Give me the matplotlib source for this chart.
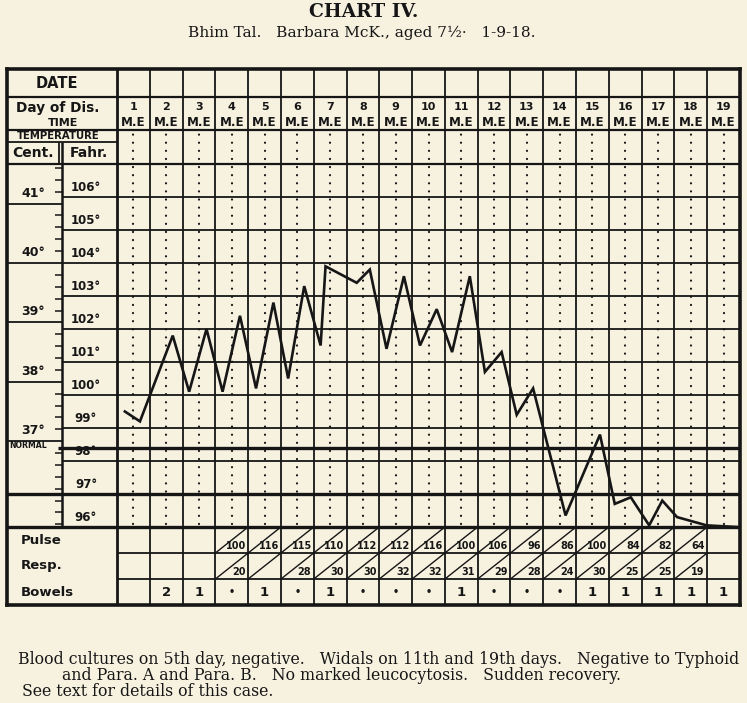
import matplotlib
matplotlib.use("Agg")
import matplotlib.pyplot as plt

# ---------------- data ----------------
days = list(range(1, 20))
time_label = "M.E"
# reading time (in days from start of day 1) and temperature in deg F
temp_time = [0.24, 0.70, 1.70, 2.20, 2.73, 3.22, 3.75, 4.24, 4.77, 5.22,
             5.71, 6.21, 6.36, 7.31, 7.71, 8.22, 8.75, 9.24, 9.75, 10.22,
             10.76, 11.22, 11.73, 12.19, 12.69, 13.68, 14.73, 15.18, 15.67,
             16.23, 16.63, 17.08, 17.98, 18.90]
temp_f = [99.5, 99.2, 101.8, 100.1, 102.0, 100.1, 102.4, 100.2, 102.8, 100.5,
          103.3, 101.5, 103.9, 103.4, 103.8, 101.4, 103.6, 101.5, 102.6, 101.3,
          103.6, 100.7, 101.3, 99.4, 100.2, 96.35, 98.8, 96.7, 96.9,
          96.05, 96.8, 96.3, 96.05, 96.0]
pulse = [None, None, None, 100, 116, 115, 110, 112, 112, 116, 100, 106, 96,
         86, 100, 84, 82, 64, None]
resp = [None, None, None, 20, None, 28, 30, 30, 32, 32, 31, 29, 28, 24, 30,
        25, 25, 19, None]
bowels = ["", "2", "1", "•", "1", "•", "1", "•", "•", "•", "1", "•", "•",
          "•", "1", "1", "1", "1", "1"]
fahr_labels = [96, 97, 98, 99, 100, 101, 102, 103, 104, 105, 106]
cent_labels = [37, 38, 39, 40, 41]
normal_f = 98.4
title = "CHART IV."
subtitle = "Bhim Tal.   Barbara McK., aged 7½·   1-9-18."
notes = ["Blood cultures on 5th day, negative.   Widals on 11th and 19th days.   Negative to Typhoid",
         "and Para. A and Para. B.   No marked leucocytosis.   Sudden recovery.",
         "See text for details of this case."]

# ---------------- layout ----------------
BG = "#f7f2e0"
INK = "#161616"
FW, FH = 747, 703
fig = plt.figure(figsize=(FW / 100, FH / 100), dpi=100, facecolor=BG)

PX_DAY = (740 - 117) / 19.0     # pixels per day column
PX_DEG = 33.0                   # pixels per deg F


def X(px):
    return (px - 117) / PX_DAY


def Y(py):
    return 107 - (py - 164) / PX_DEG


left_px, right_px, top_px, bot_px = 7, 740, 69, 605
ax = fig.add_axes([left_px / FW, 1 - bot_px / FH, (right_px - left_px) / FW,
                   (bot_px - top_px) / FH])
ax.set_xlim(X(left_px), X(right_px))
ax.set_ylim(Y(bot_px), Y(top_px))
ax.set_facecolor(BG)
for s in ax.spines.values():
    s.set_linewidth(2.6)
    s.set_color(INK)
ax.set_xticks([])
ax.set_yticks([])

xL, xR = X(left_px), X(right_px)
x_cf = X(62)
y_top = Y(top_px)
y_date = Y(97)
y_day = Y(130)
y_tmp = Y(142)
y_t_top, y_t_bot = 107, 96
y_pulse = Y(553)
y_resp = Y(579)
y_bot = Y(bot_px)

lw = 1.3
kw = dict(color=INK, capstyle="butt")

# horizontal header lines
ax.hlines([y_date, y_day, y_t_top], xL, xR, lw=lw + 0.3, **kw)
ax.hlines(y_tmp, xL, 0, lw=lw, **kw)
# vertical separator of label area
ax.vlines(0, y_bot, y_top, lw=2.0, **kw)
# day column lines
ax.vlines(days[:-1], y_bot, y_top, lw=lw, **kw)

# Fahrenheit grid lines
ax.hlines([f for f in range(98, 107)], x_cf, xR, lw=lw, **kw)
ax.hlines(97, xL, xR, lw=2.4, **kw)
ax.hlines(normal_f, X(58), xR, lw=2.4, **kw)
ax.hlines(y_t_bot, xL, xR, lw=2.4, **kw)

# Cent / Fahr divider
ax.vlines(x_cf, y_t_bot, y_tmp, lw=1.8, **kw)
ax.vlines(X(59), y_t_top, y_tmp, lw=1.3, **kw)

# Celsius lines and minor ticks
c_lines = [c * 1.8 + 32 for c in cent_labels]
ax.hlines(c_lines, xL, x_cf, lw=lw, **kw)
minor_c = [35.6 + 0.2 * i for i in range(31)]
minor_f = [c * 1.8 + 32 for c in minor_c
           if all(abs(c - k) > 0.05 for k in cent_labels)]
minor_f = [f for f in minor_f if y_t_bot < f < y_t_top]
ax.hlines(minor_f, X(55), x_cf, lw=1.1, **kw)
for c, f in zip(cent_labels, c_lines):
    ax.text(X(33), f + 4 / PX_DEG, f"{c}°", ha="center", va="bottom",
            fontsize=9, fontweight="bold", color=INK)
ax.text(X(9), normal_f + 0.22, "NORMAL", ha="left", va="top", fontsize=5.6,
        fontweight="bold", color=INK)

for f in fahr_labels:
    ax.text(X(86), f + 3 / PX_DEG, f"{f}°", ha="center", va="bottom",
            fontsize=8.5, fontweight="bold", color=INK)

# dotted M/E separators
dots = ax.vlines([d - 0.5 for d in days], y_t_bot + 0.1, y_day - 0.1, lw=1.6,
                 color=INK, linestyles=[(0, (0.05, 3.6))])
dots.set_capstyle("round")

# header texts
hf = dict(fontweight="bold", color=INK, ha="center", va="center")
ax.text(X(57), (y_top + y_date) / 2, "DATE", fontsize=10.5, **hf)
ax.text(X(58), Y(108.5), "Day of Dis.", fontsize=9.8, **hf)
ax.text(X(63), Y(123), "TIME", fontsize=8, **hf)
ax.text(X(58), (y_day + y_tmp) / 2, "TEMPERATURE", fontsize=7.3, **hf)
ax.text(X(33), (y_tmp + y_t_top) / 2, "Cent.", fontsize=10, **hf)
ax.text(X(89), (y_tmp + y_t_top) / 2, "Fahr.", fontsize=10, **hf)
for d in days:
    ax.text(d - 0.5, Y(107), str(d), fontsize=8, **hf)
    ax.text(d - 0.5, Y(122.5), time_label, fontsize=8.6, **hf)

# temperature curve
ax.plot(temp_time, temp_f, color=INK, lw=1.9, solid_joinstyle="miter",
        zorder=5)

# pulse / resp / bowels
ax.hlines([y_pulse, y_resp], 0, xR, lw=lw, **kw)
lf = dict(fontweight="bold", color=INK, ha="left", va="center", fontsize=9.5)
ax.text(X(21), Y(540), "Pulse", **lf)
ax.text(X(21), Y(566), "Resp.", **lf)
ax.text(X(21), Y(593), "Bowels", **lf)
vf = dict(fontweight="bold", color=INK, ha="right", va="bottom", fontsize=7)
for d, p, r in zip(days, pulse, resp):
    if p is None:
        continue
    ax.plot([d - 1, d], [y_pulse, y_t_bot], color=INK, lw=1.0)
    ax.plot([d - 1, d], [y_resp, y_pulse], color=INK, lw=1.0)
    ax.text(d - 0.06, y_pulse + 0.06, str(p), **vf)
    if r is not None:
        ax.text(d - 0.08, y_resp + 0.06, str(r), **vf)
for d, b in zip(days, bowels):
    if b:
        ax.text(d - 0.5, (y_resp + y_bot) / 2, b, fontsize=9.5 if b != "•" else 7,
                **hf)

# titles and notes
fig.text(364 / FW, 1 - 12 / FH, title, ha="center", va="center",
         fontsize=13.5, fontweight="bold", family="DejaVu Serif", color=INK)
fig.text(362 / FW, 1 - 33 / FH, subtitle, ha="center", va="center",
         fontsize=11.1, family="DejaVu Serif", color=INK)
note_pos = [(18, 660), (62, 676), (22, 692)]
for (px, py), t in zip(note_pos, notes):
    fig.text(px / FW, 1 - py / FH, t, ha="left", va="center", fontsize=11.35,
             family="DejaVu Serif", color=INK)

fig.savefig("out.png", dpi=100, facecolor=BG)
